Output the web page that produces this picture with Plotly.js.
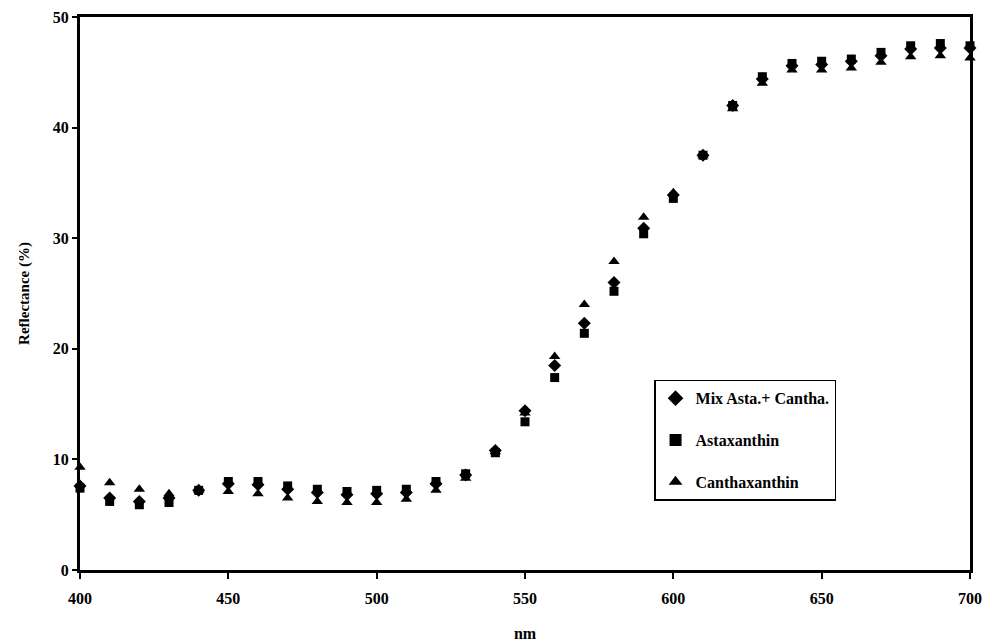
<!DOCTYPE html>
<html>
<head>
<meta charset="utf-8">
<script src="https://cdn.plot.ly/plotly-3.0.1.min.js"></script>
<style>html,body{margin:0;padding:0;background:#fff;}#chart{width:988px;height:642px;}</style>
</head>
<body>
<div id="chart"></div>
<script>
const wavelength = [400,410,420,430,440,450,460,470,480,490,500,510,520,530,540,550,560,570,580,590,600,610,620,630,640,650,660,670,680,690,700];
const mixAstaCantha = [7.6,6.5,6.2,6.5,7.2,7.8,7.7,7.3,7.0,6.8,6.9,7.0,7.8,8.6,10.8,14.4,18.5,22.3,26.0,30.9,33.9,37.5,42.0,44.4,45.6,45.7,46.0,46.5,47.1,47.2,47.2];
const astaxanthin = [7.4,6.2,5.9,6.1,7.2,8.0,8.0,7.6,7.3,7.1,7.2,7.3,8.0,8.7,10.6,13.4,17.4,21.4,25.2,30.4,33.6,37.5,42.0,44.6,45.8,46.0,46.2,46.8,47.4,47.6,47.4];
const canthaxanthin = [9.3,7.9,7.3,6.9,7.2,7.1,6.9,6.5,6.2,6.1,6.1,6.4,7.2,8.3,10.7,14.2,19.3,24.0,27.9,31.9,34.1,37.5,41.7,44.0,45.2,45.2,45.4,45.9,46.4,46.5,46.3];
const seriesNames = ['Mix Asta.+ Cantha.','Astaxanthin','Canthaxanthin'];
const xTicks = [400,450,500,550,600,650,700];
const yTicks = [0,10,20,30,40,50];

const font = 'Liberation Serif, Times New Roman, serif';
const traces = [
  {x: wavelength, y: mixAstaCantha, name: seriesNames[0], legendgroup: 'a', mode: 'markers', type: 'scatter',
   marker: {symbol: 'diamond', size: 10, color: '#000'}, cliponaxis: false},
  {x: wavelength, y: astaxanthin, name: seriesNames[1], legendgroup: 'b', mode: 'markers', type: 'scatter',
   marker: {symbol: 'square', size: 9, color: '#000'}, cliponaxis: false},
  {x: wavelength, y: canthaxanthin, name: seriesNames[2], legendgroup: 'c', mode: 'markers', type: 'scatter',
   marker: {symbol: 'triangle-up', size: 10, color: '#000'}, cliponaxis: false}
];
const layout = {
  width: 988, height: 642,
  margin: {l: 80, r: 18, t: 17, b: 72},
  paper_bgcolor: '#fff', plot_bgcolor: '#fff',
  font: {family: font, color: '#000', size: 14},
  showlegend: true,
  legend: {x: 0.645, y: 0.344, xanchor: 'left', yanchor: 'top',
    bordercolor: '#000', borderwidth: 1.5, bgcolor: '#fff',
    font: {family: font, size: 16, color: '#000', weight: 'bold'},
    itemsizing: 'constant', tracegroupgap: 18, itemwidth: 30, entrywidth: 195},
  xaxis: {range: [400, 700], tickvals: xTicks, ticktext: xTicks.map(String),
    showgrid: false, zeroline: false, showline: true, linecolor: '#000', linewidth: 3,
    mirror: true, ticks: 'outside', ticklen: 6, tickwidth: 2, tickcolor: '#000',
    ticklabelstandoff: 6,
    tickfont: {family: font, size: 16, color: '#000', weight: 'bold'},
    title: {text: '<b>nm</b>', font: {family: font, size: 16, color: '#000'}, standoff: 24}},
  yaxis: {range: [0, 50], tickvals: yTicks, ticktext: yTicks.map(String),
    showgrid: false, zeroline: false, showline: true, linecolor: '#000', linewidth: 3,
    mirror: true, ticks: 'outside', ticklen: 5, tickwidth: 2, tickcolor: '#000',
    tickfont: {family: font, size: 16, color: '#000', weight: 'bold'},
    title: {text: '<b>Reflectance (%)</b>', font: {family: font, size: 15, color: '#000'}, standoff: 20}}
};
Plotly.newPlot('chart', traces, layout, {displayModeBar: false, staticPlot: true});
</script>
</body>
</html>
